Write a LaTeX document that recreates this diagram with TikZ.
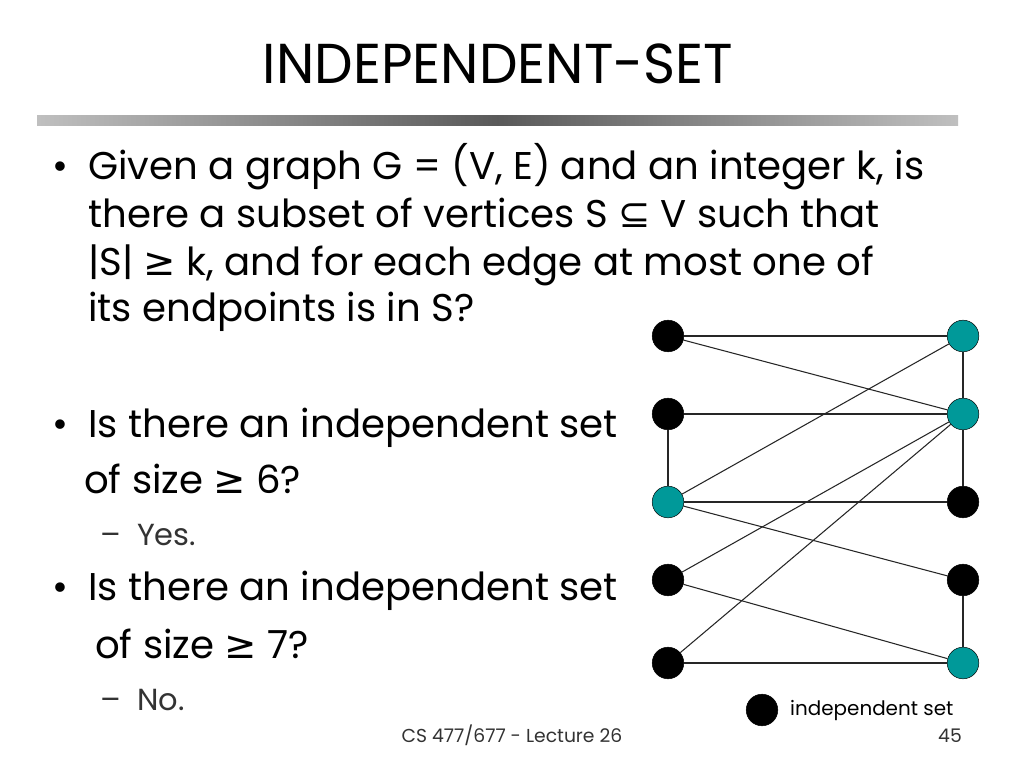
\documentclass[tikz,border=0pt]{standalone}
\usepackage{fontspec}
\setmainfont{Poppins}
\newfontfamily\symfont{DejaVu Sans}
\usetikzlibrary{positioning}
\definecolor{tealvtx}{RGB}{0,153,153}
\newcommand{\geqsym}{{\symfont ≥}}
\newcommand{\subsym}{{\symfont ⊆}}
\tikzset{
  vtx/.style={circle, draw=black, fill=black, minimum size=27pt, inner sep=0pt},
  invtx/.style={vtx, fill=tealvtx},
  edge/.style={black!85, line width=0.9pt},
  line/.style={anchor=base west, inner sep=0pt, font=\fontsize{33}{40}\selectfont},
  subline/.style={anchor=base west, inner sep=0pt, font=\fontsize{26}{30}\selectfont, black!80}
}
\begin{document}
\begin{tikzpicture}[x=0.03cm, y=-0.03cm]
\useasboundingbox[fill=white] (0,0) rectangle (1024,768);
% title
\node (title) [anchor=base, inner sep=0pt, font=\fontsize{48}{56}\selectfont\addfontfeatures{FakeStretch=0.97}] at (498,84) {INDEPENDENT-SET};
\shade[left color=black!25, right color=black!25, middle color=black!65] (37,116) rectangle (958,126);
% text
\node (b1) [line] at (52,180) {•};
\node (t1) [line] at (88,180) {Given a graph G = (V, E) and an integer k, is};
\node (t2) [line] at (88,228) {there a subset of vertices S \subsym\ V such that};
\node (t3) [line] at (88,276) {|S| \geqsym\ k, and for each edge at most one of};
\node (t4) [line] at (88,322) {its endpoints is in S?};
\node (b2) [line] at (52,438) {•};
\node (t5) [line] at (88,438) {Is there an independent set};
\node (t6) [line] at (84,494) {of size \geqsym\ 6?};
\node (t7) [subline] at (100,546) {–\ \ Yes.};
\node (b3) [line] at (52,601) {•};
\node (t8) [line] at (88,601) {Is there an independent set};
\node (t9) [line] at (95,658) {of size \geqsym\ 7?};
\node (t10) [subline] at (100,710) {–\ \ No.};
% graph
\node (l1) [vtx] at (668,336) {};
\node (l2) [vtx] at (668,414) {};
\node (l3) [invtx] at (668,502) {};
\node (l4) [vtx] at (668,580) {};
\node (l5) [vtx] at (668,663) {};
\node (r1) [invtx] at (963,336) {};
\node (r2) [invtx] at (963,414) {};
\node (r3) [vtx] at (963,502) {};
\node (r4) [vtx] at (963,580) {};
\node (r5) [invtx] at (963,663) {};
\foreach \a/\b in {l1/r1, l1/r2, l2/r2, l2/l3, l3/r1, l3/r3, l3/r4, l4/r2, l4/r5, l5/r2, l5/r5, r1/r2, r2/r3, r4/r5}
  \draw [edge] (\a) -- (\b);
% legend and footer
\node (key) [vtx] at (762,710) {};
\node (keytext) [anchor=base west, inner sep=0pt, font=\fontsize{17}{20}\selectfont] at (790,715) {independent set};
\node (foot) [anchor=base, inner sep=0pt, font=\fontsize{16}{20}\selectfont, black!80] at (512,742) {CS 477/677 - Lecture 26};
\node (page) [anchor=base east, inner sep=0pt, font=\fontsize{16}{20}\selectfont, black!80] at (962,742) {45};
\end{tikzpicture}
\end{document}
